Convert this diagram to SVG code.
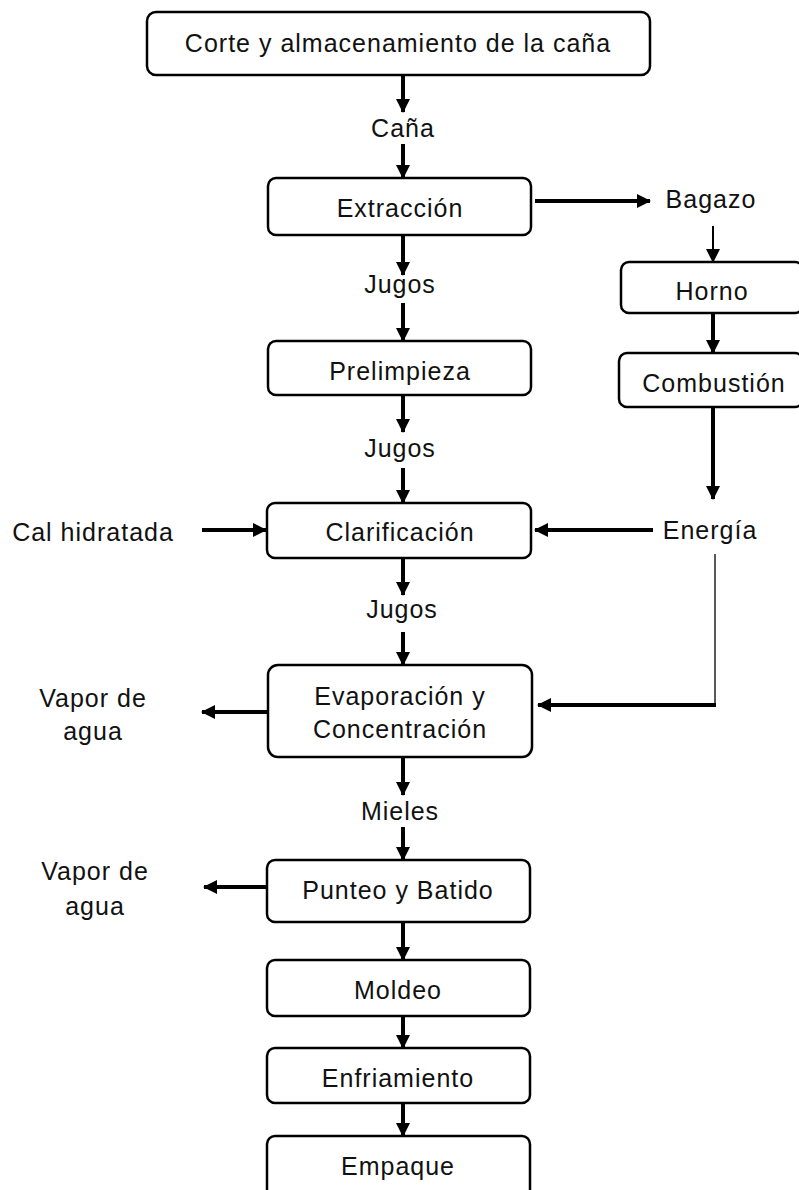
<svg xmlns="http://www.w3.org/2000/svg" width="799" height="1190" viewBox="0 0 799 1190">
<style>
.box{fill:#fff;stroke:#000;stroke-width:2.5}
.t{font-family:"Liberation Sans",Arial,sans-serif;font-size:25px;letter-spacing:1px;fill:#111;text-anchor:middle}
.c{fill:none;stroke:#000;stroke-width:4}
.thin{fill:none;stroke:#000;stroke-width:2}
.hair{fill:none;stroke:#000;stroke-width:1.3}
</style>
<defs>
<marker id="ah" markerUnits="userSpaceOnUse" markerWidth="14" markerHeight="14" refX="13" refY="7" orient="auto">
<path d="M0,0 L14,7 L0,14 z" fill="#000"/>
</marker>
</defs>
<rect width="799" height="1190" fill="#fff"/>
<g id="connectors">
<path class="c" d="M403,75 V112" marker-end="url(#ah)"/>
<path class="c" d="M403,144 V178" marker-end="url(#ah)"/>
<path class="c" d="M535,201 H650" marker-end="url(#ah)"/>
<path class="thin" d="M713,226 V262" marker-end="url(#ah)"/>
<path class="c" d="M713,313 V353" marker-end="url(#ah)"/>
<path class="c" d="M713,407 V499" marker-end="url(#ah)"/>
<path class="c" d="M653,530 H535" marker-end="url(#ah)"/>
<path class="c" d="M202,530 H266" marker-end="url(#ah)"/>
<path class="c" d="M403,235 V275" marker-end="url(#ah)"/>
<path class="c" d="M403,303 V341" marker-end="url(#ah)"/>
<path class="c" d="M403,395 V432" marker-end="url(#ah)"/>
<path class="c" d="M403,468 V503" marker-end="url(#ah)"/>
<path class="c" d="M403,558 V595" marker-end="url(#ah)"/>
<path class="c" d="M403,632 V665" marker-end="url(#ah)"/>
<path class="hair" d="M715,554 V706"/>
<path class="c" d="M716,705 H538" marker-end="url(#ah)"/>
<path class="c" d="M267,712 H202" marker-end="url(#ah)"/>
<path class="c" d="M403,757 V795" marker-end="url(#ah)"/>
<path class="c" d="M403,827 V860" marker-end="url(#ah)"/>
<path class="c" d="M266,887 H204" marker-end="url(#ah)"/>
<path class="c" d="M403,922 V960" marker-end="url(#ah)"/>
<path class="c" d="M403,1016 V1048" marker-end="url(#ah)"/>
<path class="c" d="M403,1103 V1136" marker-end="url(#ah)"/>
</g>
<g id="n-corte"><rect class="box" x="147" y="12" width="503" height="63" rx="9"/><text class="t" x="398" y="52">Corte y almacenamiento de la caña</text></g>
<g id="n-cana"><text class="t" x="403" y="137">Caña</text></g>
<g id="n-extraccion"><rect class="box" x="268" y="178" width="263" height="57" rx="8"/><text class="t" x="400" y="217">Extracción</text></g>
<g id="n-bagazo"><text class="t" x="711" y="208">Bagazo</text></g>
<g id="n-horno"><rect class="box" x="621" y="262" width="182" height="51" rx="8"/><text class="t" x="712" y="300">Horno</text></g>
<g id="n-combustion"><rect class="box" x="619" y="353" width="184" height="54" rx="8"/><text class="t" x="714" y="392">Combustión</text></g>
<g id="n-jugos1"><text class="t" x="400" y="293">Jugos</text></g>
<g id="n-prelimpieza"><rect class="box" x="268" y="341" width="263" height="54" rx="8"/><text class="t" x="400" y="380">Prelimpieza</text></g>
<g id="n-jugos2"><text class="t" x="400" y="457">Jugos</text></g>
<g id="n-cal"><text class="t" x="93" y="541">Cal hidratada</text></g>
<g id="n-clarificacion"><rect class="box" x="267" y="503" width="264" height="55" rx="8"/><text class="t" x="400" y="541">Clarificación</text></g>
<g id="n-energia"><text class="t" x="710" y="539">Energía</text></g>
<g id="n-jugos3"><text class="t" x="402" y="618">Jugos</text></g>
<g id="n-evaporacion"><rect class="box" x="268" y="665" width="264" height="92" rx="10"/><text class="t" x="400" y="705">Evaporación y</text><text class="t" x="400" y="738">Concentración</text></g>
<g id="n-vapor1"><text class="t" x="93" y="707">Vapor de</text><text class="t" x="93" y="740">agua</text></g>
<g id="n-mieles"><text class="t" x="400" y="820">Mieles</text></g>
<g id="n-punteo"><rect class="box" x="267" y="860" width="263" height="62" rx="8"/><text class="t" x="398" y="899">Punteo y Batido</text></g>
<g id="n-vapor2"><text class="t" x="95" y="880">Vapor de</text><text class="t" x="95" y="915">agua</text></g>
<g id="n-moldeo"><rect class="box" x="267" y="960" width="263" height="56" rx="8"/><text class="t" x="398" y="999">Moldeo</text></g>
<g id="n-enfriamiento"><rect class="box" x="267" y="1048" width="263" height="55" rx="8"/><text class="t" x="398" y="1087">Enfriamiento</text></g>
<g id="n-empaque"><rect class="box" x="267" y="1136" width="263" height="70" rx="8"/><text class="t" x="398" y="1175">Empaque</text></g>
</svg>
